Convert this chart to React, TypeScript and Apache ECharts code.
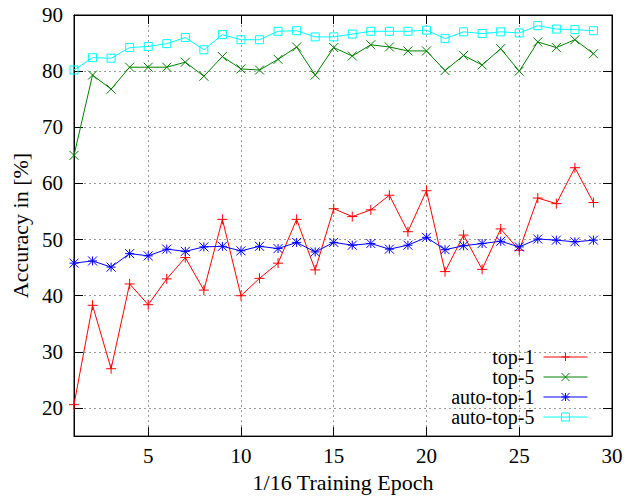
import React, { useEffect, useRef } from "react";
import * as echarts from "echarts";

const epochs = [1,2,3,4,5,6,7,8,9,10,11,12,13,14,15,16,17,18,19,20,21,22,23,24,25,26,27,28,29];
const top1 = [20.6,38.3,27.0,42.1,38.4,43.0,46.8,41.0,53.6,40.0,43.1,45.8,53.6,44.6,55.5,54.1,55.3,57.9,51.4,58.7,44.3,50.8,44.7,51.9,48.1,57.4,56.4,62.8,56.6];
const top5 = [65.0,79.3,76.8,80.7,80.7,80.7,81.6,79.1,82.6,80.4,80.2,82.1,84.3,79.3,84.2,82.7,84.7,84.3,83.6,83.6,80.1,82.8,81.1,84.0,80.0,85.2,84.2,85.6,83.1];
const autoTop1 = [45.8,46.2,45.1,47.5,47.1,48.3,47.9,48.7,48.8,48.0,48.8,48.4,49.5,47.8,49.5,49.0,49.3,48.3,49.0,50.4,48.2,48.9,49.3,49.7,48.7,50.1,49.9,49.6,49.9];
const autoTop5 = [80.2,82.4,82.3,84.2,84.4,84.9,86.0,83.8,86.5,85.6,85.6,87.1,87.2,86.1,86.1,86.6,87.1,87.1,87.1,87.3,85.8,87.0,86.7,87.0,86.8,88.1,87.5,87.4,87.2];
const seriesNames = ["top-1", "top-5", "auto-top-1", "auto-top-5"];
const xTicks = [5, 10, 15, 20, 25, 30];
const yTicks = [20, 30, 40, 50, 60, 70, 80, 90];

const FONT = "'Liberation Serif', 'DejaVu Serif', serif";

export default function App() {
  const ref = useRef<HTMLDivElement>(null);
  useEffect(() => {
    document.body.style.margin = "0";
    const chart = echarts.init(ref.current!, null, { renderer: "svg" });
    const pairs = (ys: number[]) => epochs.map((e, i) => [e, ys[i]]);
    const mk = (name: string, ys: number[], color: string, symbol: string, size: number) => ({
      name,
      type: "line",
      data: pairs(ys),
      symbol,
      symbolSize: size,
      lineStyle: { color, width: 1 },
      itemStyle: { color: "rgba(0,0,0,0)", borderColor: color, borderWidth: 1 },
      emphasis: { disabled: true },
    });
    const gridLine = { show: true, lineStyle: { color: "#999", type: [2, 3], width: 1 } };
    chart.setOption({
      animation: false,
      grid: { left: 74, right: 20, top: 15, bottom: 57, show: true, borderColor: "#000", borderWidth: 1 },
      legend: {
        orient: "vertical",
        align: "right",
        right: 39,
        bottom: 66,
        itemWidth: 44,
        itemHeight: 10,
        itemGap: 0,
        data: seriesNames,
        lineStyle: { width: 1 },
        itemStyle: { borderWidth: 1 },
        textStyle: { fontFamily: FONT, fontSize: 20, color: "#000", lineHeight: 19.5, padding: [0, 4, 0, 0] },
      },
      xAxis: [
        {
          type: "value", min: 1, max: 30,
          name: "1/16 Training Epoch", nameLocation: "middle", nameGap: 30,
          nameTextStyle: { fontFamily: FONT, fontSize: 22, color: "#000" },
          axisLine: { show: true, lineStyle: { color: "#000" } },
          axisTick: { show: true, inside: true, length: 9, customValues: xTicks, lineStyle: { color: "#000" } },
          axisLabel: { customValues: xTicks, fontFamily: FONT, fontSize: 21, color: "#000", margin: 9 },
          splitLine: gridLine,
        },
        {
          type: "value", min: 1, max: 30, position: "top",
          axisLine: { show: true, lineStyle: { color: "#000" } },
          axisTick: { show: true, inside: true, length: 9, customValues: xTicks, lineStyle: { color: "#000" } },
          axisLabel: { show: false },
          splitLine: { show: false },
        },
      ],
      yAxis: [
        {
          type: "value", min: 15, max: 90,
          name: "Accuracy in [%]", nameLocation: "middle", nameGap: 42,
          nameTextStyle: { fontFamily: FONT, fontSize: 22, color: "#000" },
          axisLine: { show: true, lineStyle: { color: "#000" } },
          axisTick: { show: true, inside: true, length: 9, customValues: yTicks, lineStyle: { color: "#000" } },
          axisLabel: { customValues: yTicks, fontFamily: FONT, fontSize: 21, color: "#000", margin: 11 },
          splitLine: gridLine,
        },
        {
          type: "value", min: 15, max: 90, position: "right",
          axisLine: { show: true, lineStyle: { color: "#000" } },
          axisTick: { show: true, inside: true, length: 9, customValues: yTicks, lineStyle: { color: "#000" } },
          axisLabel: { show: false },
          splitLine: { show: false },
        },
      ],
      series: [
        mk(seriesNames[0], top1, "#ff0000", "path://M0,5L10,5M5,0L5,10", 10),
        mk(seriesNames[1], top5, "#008000", "path://M0,0L10,10M10,0L0,10", 9),
        mk(seriesNames[2], autoTop1, "#0000ff", "path://M0,5L10,5M5,0L5,10M0,0L10,10M10,0L0,10", 9),
        mk(seriesNames[3], autoTop5, "#00ffff", "path://M0,0L10,0L10,10L0,10Z", 8),
      ],
    });
    return () => chart.dispose();
  }, []);
  return <div ref={ref} style={{ width: 632, height: 498 }} />;
}
